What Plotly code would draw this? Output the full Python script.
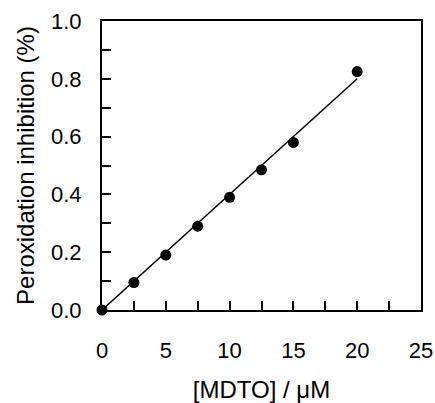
import plotly.graph_objects as go

# Data
mdto_uM = [0, 2.5, 5, 7.5, 10, 12.5, 15, 20]
inhibition = [0.0, 0.095, 0.19, 0.29, 0.39, 0.485, 0.58, 0.825]
fit_x = [0, 20]
fit_y = [0.0, 0.80]

x_ticks = [0, 5, 10, 15, 20, 25]
y_ticks = [0.0, 0.2, 0.4, 0.6, 0.8, 1.0]

FONT = "Liberation Sans, Arial, Helvetica, sans-serif"

fig = go.Figure()
fig.add_trace(go.Scatter(x=fit_x, y=fit_y, mode="lines",
                         line=dict(color="black", width=1.5),
                         showlegend=False, cliponaxis=False))
fig.add_trace(go.Scatter(x=mdto_uM, y=inhibition, mode="markers",
                         marker=dict(color="black", size=11),
                         showlegend=False, cliponaxis=False))

fig.update_layout(
    width=435, height=403,
    margin=dict(l=102, r=14, t=21, b=93),
    paper_bgcolor="white", plot_bgcolor="white",
    font=dict(family=FONT, color="black", size=22),
    showlegend=False,
)
fig.update_xaxes(
    automargin=False,
    range=[0, 25], tickvals=x_ticks, ticktext=[str(v) for v in x_ticks],
    showgrid=False, zeroline=False,
    showline=True, linecolor="black", linewidth=2, mirror=True,
    ticks="inside", ticklen=9, tickwidth=1.5, tickcolor="black",
    minor=dict(dtick=2.5, tick0=0, ticks="inside", ticklen=9, tickwidth=1.5, tickcolor="black", showgrid=False),
    tickfont=dict(size=22), ticklabelstandoff=20,
    title=dict(text="[MDTO] / μM", font=dict(size=24), standoff=21),
)
fig.update_yaxes(
    automargin=False,
    range=[0, 1.0], tickvals=y_ticks, ticktext=[f"{v:.1f}" for v in y_ticks],
    showgrid=False, zeroline=False,
    showline=True, linecolor="black", linewidth=2, mirror=True,
    ticks="inside", ticklen=9, tickwidth=1.5, tickcolor="black",
    minor=dict(dtick=0.1, tick0=0, ticks="inside", ticklen=9, tickwidth=1.5, tickcolor="black", showgrid=False),
    tickfont=dict(size=22), ticklabelstandoff=14,
    title=dict(text="Peroxidation inhibition (%)", font=dict(size=24), standoff=10),
)

fig.write_html(
    "out.html",
    config={"displayModeBar": False},
    post_script="document.body.style.margin='0';document.body.style.overflow='hidden';",
)
